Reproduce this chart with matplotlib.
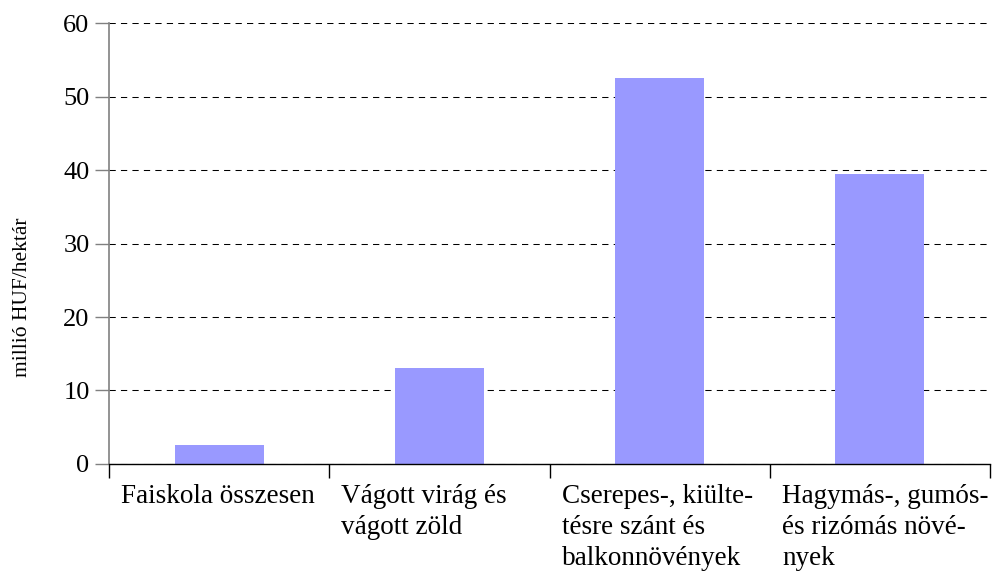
import matplotlib
matplotlib.use("Agg")
import matplotlib.pyplot as plt
import matplotlib.transforms as mtransforms

# adatok
categories = [
    "Faiskola összesen",
    "Vágott virág és\nvágott zöld",
    "Cserepes-, kiülte-\ntésre szánt és\nbalkonnövények",
    "Hagymás-, gumós-\nés rizómás növé-\nnyek",
]
values = [2.6, 13.1, 52.5, 39.5]
yticks = [0, 10, 20, 30, 40, 50, 60]
ylabel = "millió HUF/hektár"

plt.rcParams["font.family"] = ["Liberation Serif", "DejaVu Serif"]

fig = plt.figure(figsize=(9.92, 5.71), dpi=100)
ax = fig.add_axes([0.1099, 0.1874, 0.8881, 0.7723])

x = list(range(len(categories)))
ax.bar(x, values, width=0.405, color="#9999FF", zorder=3)

ax.set_xlim(-0.5, len(categories) - 0.5)
ax.set_ylim(0, 60)
ax.set_yticks(yticks)
ax.tick_params(axis="y", labelsize=19, length=10, width=1, color="#808080",
               direction="out", pad=4)
ax.grid(axis="y", color="black", linestyle=(0, (6, 5)), linewidth=0.75, zorder=1)

# tick a kategóriák határain
ax.set_xticks([i - 0.5 for i in range(len(categories) + 1)])
ax.set_xticklabels([])
ax.tick_params(axis="x", length=10, width=1, color="black", direction="out")

for s in ["top", "right"]:
    ax.spines[s].set_visible(False)
ax.spines["left"].set_color("#808080")
ax.spines["left"].set_linewidth(1.2)
ax.spines["bottom"].set_color("black")
ax.spines["bottom"].set_linewidth(1)
ax.spines["bottom"].set_zorder(4)

# kategória feliratok balra igazítva
trans = mtransforms.blended_transform_factory(ax.transData, ax.transAxes)
for i, lab in enumerate(categories):
    ax.text(i - 0.5 + 0.055, -0.046, lab, transform=trans, ha="left", va="top",
            fontsize=19.5, linespacing=1.3)

fig.text(0.023, 0.48, ylabel, rotation=90, ha="center", va="center", fontsize=15.5)

fig.savefig("out.png", dpi=100)
